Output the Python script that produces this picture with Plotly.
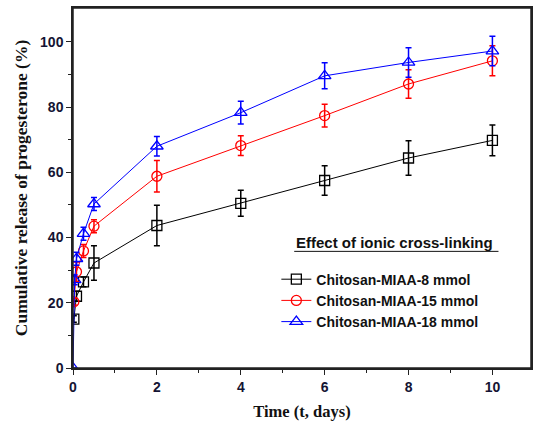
import plotly.graph_objects as go

x_8 = [0.02, 0.083, 0.25, 0.5, 2, 4, 6, 8, 10]
y_8 = [15.0, 22.0, 26.4, 32.2, 43.7, 50.5, 57.5, 64.4, 69.8]
e_8 = [1.0, 1.5, 1.5, 5.3, 6.2, 4.0, 4.5, 5.3, 4.7]

x_15 = [0.02, 0.083, 0.25, 0.5, 2, 4, 6, 8, 10]
y_15 = [20.3, 29.5, 35.9, 43.5, 58.8, 68.2, 77.4, 87.1, 94.2]
e_15 = [1.0, 3.0, 2.0, 2.0, 4.8, 3.0, 3.5, 4.4, 4.6]

x_18 = [0, 0.04, 0.083, 0.25, 0.5, 2, 4, 6, 8, 10]
y_18 = [0.0, 27.0, 33.5, 41.2, 50.3, 68.0, 78.3, 89.6, 93.7, 97.2]
e_18 = [0.0, 1.5, 2.0, 2.0, 2.0, 3.0, 3.5, 4.0, 4.5, 4.5]

names = ["Chitosan-MIAA-8 mmol", "Chitosan-MIAA-15 mmol", "Chitosan-MIAA-18 mmol"]
colors = ["#000000", "#ff0000", "#0000ff"]
symbols = ["square-open", "circle-open", "triangle-up-open"]

fig = go.Figure()
for xs, ys, es, name, c, s in zip([x_8, x_15, x_18], [y_8, y_15, y_18], [e_8, e_15, e_18],
                                   names, colors, symbols):
    fig.add_trace(go.Scatter(
        x=xs, y=ys, name=name, mode="lines+markers",
        line=dict(color=c, width=1),
        marker=dict(symbol=s, size=10 if s != "triangle-up-open" else 11,
                    color=c, line=dict(color=c, width=1.3)),
        error_y=dict(type="data", array=es, visible=True, color=c, thickness=1.5, width=3),
    ))

tickfont = dict(family="Arial", size=14, color="#141433", weight="bold")
titlefont = dict(family="Times New Roman, Liberation Serif", color="#111", weight="bold")
fig.update_layout(
    width=536, height=429,
    margin=dict(l=73, r=3, t=8, b=61),
    paper_bgcolor="white", plot_bgcolor="white",
    showlegend=True,
    legend=dict(x=0.444, y=0.29, xanchor="left", yanchor="top",
                font=dict(family="Arial", size=14, color="#111111", weight="bold"),
                bgcolor="rgba(0,0,0,0)", tracegroupgap=0),
    xaxis=dict(range=[0, 10.92], tickvals=[0, 2, 4, 6, 8, 10], ticks="outside", ticklen=5,
               tickwidth=1.2, tickcolor="#222", showline=True, mirror=True,
               linecolor="#222", linewidth=1.5,
               showgrid=False, zeroline=False, tickfont=tickfont,
               minor=dict(tickvals=[1, 3, 5, 7, 9], ticks="outside", ticklen=3, tickcolor="#222"),
               title=dict(text="Time (t, days)", font=dict(size=16.5, **titlefont), standoff=12)),
    yaxis=dict(range=[0, 110.4], tickvals=[0, 20, 40, 60, 80, 100], ticks="outside", ticklen=5,
               tickwidth=1.2, tickcolor="#222", showline=True, mirror=True,
               linecolor="#222", linewidth=1.5,
               showgrid=False, zeroline=False, tickfont=tickfont,
               minor=dict(tickvals=[10, 30, 50, 70, 90], ticks="outside", ticklen=3, tickcolor="#222"),
               title=dict(text="Cumulative release of progesterone (%)",
                          font=dict(size=17.5, **titlefont), standoff=8)),
    annotations=[dict(x=0.483, y=0.349, xref="paper", yref="paper", xanchor="left", yanchor="middle",
                      showarrow=False,
                      text="Effect of ionic cross-linking",
                      font=dict(family="Arial", size=15, color="#111", weight="bold"))],
    shapes=[dict(type="line", xref="paper", yref="paper", x0=0.483, x1=0.929, y0=0.324, y1=0.324,
                 line=dict(color="#111", width=1)),
            dict(type="rect", xref="paper", yref="paper", x0=0, x1=1, y0=0, y1=1,
                 line=dict(color="#222", width=1.5), layer="above")],
)
fig.write_html("out.html", config={"displayModeBar": False},
               post_script="document.body.style.margin='0';document.body.style.overflow='hidden';")
